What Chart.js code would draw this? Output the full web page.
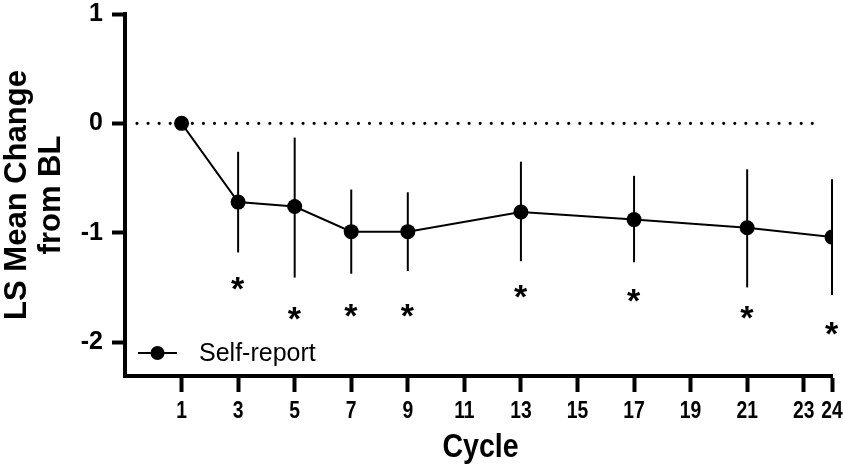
<!DOCTYPE html>
<html>
<head>
<meta charset="utf-8">
<script src="https://cdn.jsdelivr.net/npm/chart.js@4.4.0/dist/chart.umd.min.js"></script>
<style>
  html, body { margin: 0; padding: 0; background: #ffffff; }
  #wrap { width: 843px; height: 466px; position: relative; }
</style>
</head>
<body>
<div id="wrap"><canvas id="chart"></canvas></div>
<script>
// Least-squares mean change from baseline by treatment cycle
const cycles       = [1, 3, 5, 7, 9, 13, 17, 21, 24];
const lsMeanChange = [0, -0.72, -0.76, -0.99, -0.99, -0.81, -0.88, -0.955, -1.04];
const ciUpper      = [null, -0.26, -0.13, -0.605, -0.63, -0.35, -0.48, -0.42, -0.51];
const ciLower      = [null, -1.18, -1.41, -1.375, -1.35, -1.26, -1.27, -1.50, -1.57];
// Level (in change units) at which each significance star sits
const starLevel    = [null, -1.46, -1.74, -1.71, -1.71, -1.54, -1.57, -1.725, -1.875];
const xTickValues  = [1, 3, 5, 7, 9, 11, 13, 15, 17, 19, 21, 23, 24];
const yTickValues  = [1, 0, -1, -2];
const seriesName   = 'Self-report';
const xAxisTitle   = 'Cycle';
const yAxisTitle   = ['LS Mean Change', 'from BL'];

const SANS = "'Liberation Sans', Arial, Helvetica, sans-serif";
const NARROW_SCALE = 0.84;   // horizontal squeeze for the condensed x-axis lettering

// Dotted reference line at zero change
const zeroLine = {
  id: 'zeroLine',
  beforeDatasetsDraw(chart) {
    const { ctx, chartArea, scales } = chart;
    const y = scales.y.getPixelForValue(0);
    ctx.save();
    ctx.strokeStyle = '#000';
    ctx.lineWidth = 3.2;
    ctx.lineCap = 'round';
    ctx.setLineDash([0, 11.07]);
    ctx.beginPath();
    ctx.moveTo(chartArea.left + 12, y);
    ctx.lineTo(chartArea.right - 9, y);
    ctx.stroke();
    ctx.restore();
  }
};

// Vertical confidence bars for each cycle
const errorBars = {
  id: 'errorBars',
  beforeDatasetsDraw(chart) {
    const { ctx, scales } = chart;
    ctx.save();
    ctx.strokeStyle = '#000';
    ctx.lineWidth = 2;
    cycles.forEach((c, i) => {
      if (ciUpper[i] === null) return;
      const x = scales.x.getPixelForValue(c);
      ctx.beginPath();
      ctx.moveTo(x, scales.y.getPixelForValue(ciUpper[i]));
      ctx.lineTo(x, scales.y.getPixelForValue(ciLower[i]));
      ctx.stroke();
    });
    ctx.restore();
  }
};

// Condensed x-axis tick labels and title, significance stars, in-plot legend
const annotations = {
  id: 'annotations',
  afterDraw(chart) {
    const { ctx, chartArea, scales } = chart;
    const xs = scales.x;
    ctx.save();
    ctx.fillStyle = '#000';

    // x tick labels (condensed bold)
    ctx.font = 'bold 23px ' + SANS;
    ctx.textAlign = 'center';
    ctx.textBaseline = 'alphabetic';
    xTickValues.forEach(v => {
      const x = xs.getPixelForValue(v);
      ctx.save();
      ctx.translate(x, xs.top + 42);
      ctx.scale(NARROW_SCALE, 1);
      ctx.fillText(String(v), 0, 0);
      ctx.restore();
    });

    // x axis title
    ctx.font = 'bold 34px ' + SANS;
    ctx.save();
    ctx.translate((chartArea.left + chartArea.right) / 2 + 2, xs.top + 81);
    ctx.scale(NARROW_SCALE, 1);
    ctx.fillText(xAxisTitle, 0, 0);
    ctx.restore();

    // significance stars
    ctx.font = 'bold 34px ' + SANS;
    ctx.textAlign = 'left';
    const m = ctx.measureText('*');
    const dy = (m.actualBoundingBoxAscent - m.actualBoundingBoxDescent) / 2;
    const w = m.actualBoundingBoxRight + m.actualBoundingBoxLeft;
    cycles.forEach((c, i) => {
      if (starLevel[i] === null) return;
      const x = xs.getPixelForValue(c);
      const y = scales.y.getPixelForValue(starLevel[i]);
      ctx.fillText('*', x - w / 2 + m.actualBoundingBoxLeft, y + dy);
    });

    // legend
    const ly = chartArea.bottom - 23;
    const lx = chartArea.left + 13;
    ctx.strokeStyle = '#000';
    ctx.lineWidth = 2;
    ctx.beginPath();
    ctx.moveTo(lx, ly);
    ctx.lineTo(lx + 39, ly);
    ctx.stroke();
    ctx.beginPath();
    ctx.arc(lx + 19.5, ly, 7, 0, Math.PI * 2);
    ctx.fill();
    ctx.font = '25px ' + SANS;
    ctx.textBaseline = 'middle';
    ctx.fillText(seriesName, lx + 61, ly + 1);
    ctx.restore();
  }
};

new Chart(document.getElementById('chart'), {
  type: 'line',
  data: {
    datasets: [{
      label: seriesName,
      data: cycles.map((c, i) => ({ x: c, y: lsMeanChange[i] })),
      borderColor: '#000',
      backgroundColor: '#000',
      borderWidth: 2,
      pointRadius: 7.5,
      pointHoverRadius: 7.5,
      pointBackgroundColor: '#000',
      pointBorderWidth: 0,
      tension: 0
    }]
  },
  options: {
    responsive: true,
    maintainAspectRatio: false,
    animation: false,
    events: [],
    layout: { padding: { top: 14, right: 11, left: 0, bottom: 0 } },
    plugins: {
      legend: { display: false },
      tooltip: { enabled: false }
    },
    scales: {
      x: {
        type: 'linear',
        min: -1,
        max: 24,
        afterBuildTicks(scale) { scale.ticks = xTickValues.map(v => ({ value: v })); },
        afterFit(scale) { scale.height = 90; },
        grid: {
          drawOnChartArea: false,
          drawTicks: true,
          tickLength: 16,
          tickWidth: 4,
          tickColor: '#000'
        },
        border: { display: true, color: '#000', width: 4 },
        ticks: { display: false },
        title: { display: false }
      },
      y: {
        min: -2.31,
        max: 1,
        afterBuildTicks(scale) { scale.ticks = yTickValues.map(v => ({ value: v })); },
        afterFit(scale) { scale.width = 125; },
        grid: {
          drawOnChartArea: false,
          drawTicks: true,
          tickLength: 13,
          tickWidth: 4,
          tickColor: '#000'
        },
        border: { display: true, color: '#000', width: 4 },
        ticks: {
          color: '#000',
          padding: 9,
          font: { family: SANS, size: 25, weight: 'bold', lineHeight: 0.4 }
        },
        title: {
          display: true,
          text: yAxisTitle,
          color: '#000',
          padding: { top: 1, bottom: 0 },
          font: { family: SANS, size: 31, weight: 'bold', lineHeight: 1.08 }
        }
      }
    }
  },
  plugins: [zeroLine, errorBars, annotations]
});
</script>
</body>
</html>
